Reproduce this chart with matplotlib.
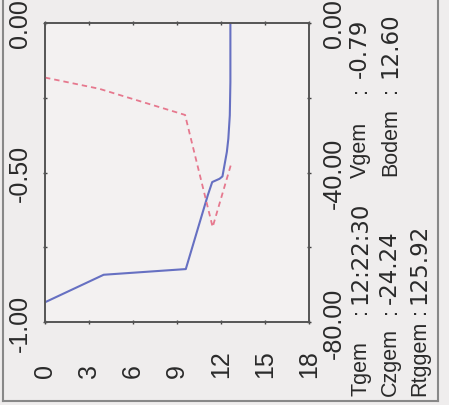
import matplotlib.pyplot as plt
from matplotlib.lines import Line2D

depth_blue = [0.0, 4.0, 9.6, 11.1, 11.4, 11.9, 12.1, 12.4, 12.5, 12.6, 12.64, 12.64]
val_blue = [-0.934, -0.842, -0.823, -0.576, -0.532, -0.521, -0.513, -0.431, -0.387, -0.309, -0.197, 0.0]

depth_red = [0.0, 3.7, 9.55, 11.43, 12.73]
val_red = [-14.6, -17.6, -24.6, -54.6, -37.2]

depth_ticks = [0, 3, 6, 9, 12, 15, 18]
left_ticks = [-1.0, -0.75, -0.5, -0.25, 0.0]
left_labels = ["-1.00", "", "-0.50", "", "0.00"]
right_ticks = [-80, -60, -40, -20, 0]
right_labels = ["-80.00", "", "-40.00", "", "0.00"]

bg = "#efeded"
ink = "#2a2a2a"
plt.rcParams["font.family"] = ["Liberation Sans", "DejaVu Sans"]

fig = plt.figure(figsize=(4.49, 4.06), dpi=100, facecolor=bg)
W, H = 449, 406
ax = fig.add_axes([45 / W, 1 - 323 / H, 264 / W, 299 / H], facecolor="#f3f1f1")
ax2 = ax.twinx()

ax.plot(depth_blue, val_blue, color="#6670c2", lw=1.5)
ax2.plot(depth_red, val_red, color="#e6788e", lw=1.3, ls=(0, (3, 2.2)))

ax.set_xlim(0, 18)
ax.set_ylim(-1, 0)
ax2.set_ylim(-80, 0)

ax.set_xticks(depth_ticks)
ax.set_xticklabels([str(d) for d in depth_ticks], rotation=90, va="bottom")
ax.set_yticks(left_ticks)
ax.set_yticklabels(left_labels, rotation=90, va="center")
ax2.set_yticks(right_ticks)
ax2.set_yticklabels(right_labels, rotation=90, va="center")

ax.tick_params(axis="x", direction="inout", length=3, width=1, color="#444",
               labelsize=18, labelcolor=ink, pad=38, top=True)
ax.tick_params(axis="y", direction="inout", length=3, width=1, color="#444",
               labelsize=18, labelcolor=ink, pad=8)
ax2.tick_params(axis="y", direction="inout", length=3, width=1, color="#444",
                labelsize=18, labelcolor=ink, pad=8)
for a in (ax, ax2):
    for s in a.spines.values():
        s.set_color("#555")
        s.set_linewidth(1.2)

# stats block, rotated like the rest of the scan
# (baseline x, [(start y, text, is_value)])
stats = [
    (366, [(396, "Tgem", 0), (314, ":", 0), (304, "12:22:30", 1),
           (178, "Vgem", 0), (93, ":", 0), (78, "-0.79", 1)]),
    (396, [(396, "Czgem", 0), (314, ":", 0), (304, "-24.24", 1),
           (176, "Bodem", 0), (93, ":", 0), (78, "12.60", 1)]),
    (425, [(396, "Rtggem", 0), (314, ":", 0), (304, "125.92", 1)]),
]
for xb, parts in stats:
    for yp, s, is_val in parts:
        fam = ["DejaVu Sans"] if is_val else ["Liberation Sans"]
        size = 16.5 if is_val else 15.5
        fig.text(xb / W, 1 - yp / H, s, rotation=90, rotation_mode="anchor",
                 ha="left", va="baseline", fontsize=size, color=ink, family=fam)

# scanner frame
fig.add_artist(Line2D([3 / W, 3 / W], [1 - 402 / H, 1], color="#888", lw=1.5))
fig.add_artist(Line2D([438 / W, 438 / W], [1 - 402 / H, 1], color="#888", lw=1.5))
fig.add_artist(Line2D([3 / W, 438 / W], [1 - 402 / H, 1 - 402 / H], color="#888", lw=1.5))

fig.savefig("out.png", dpi=100, facecolor=bg)
